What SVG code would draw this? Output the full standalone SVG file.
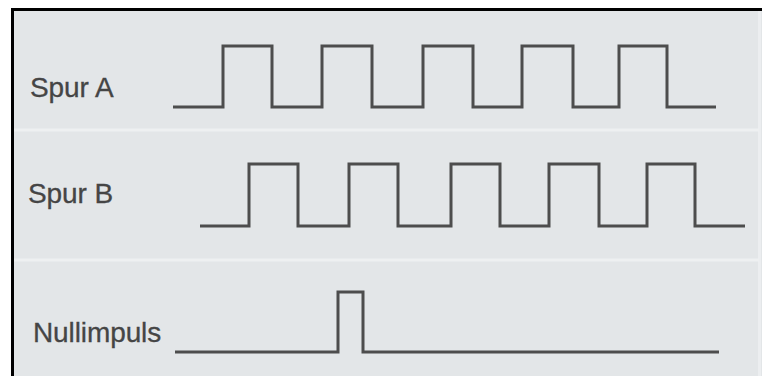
<svg xmlns="http://www.w3.org/2000/svg" width="762" height="376" viewBox="0 0 762 376">
  <style>
    .bg { fill: #e3e6e8; }
    .frame { fill: #000000; }
    .sep { stroke: #eef0f1; stroke-width: 3; fill: none; }
    .wave { fill: none; stroke: #4d4d4d; stroke-width: 3; stroke-linejoin: miter; stroke-linecap: butt; }
    .label { font-family: "Liberation Sans", Arial, sans-serif; font-size: 28px; fill: #454545; letter-spacing: -0.1px; stroke: #454545; stroke-width: 0.3px; }
  </style>
  <rect x="0" y="0" width="762" height="376" fill="#ffffff"/>
  <rect class="bg" x="14" y="11" width="748" height="365"/>
  <rect class="frame" x="11" y="8" width="751" height="3"/>
  <rect class="frame" x="11" y="8" width="3" height="368"/>
  <line x1="759.5" y1="11" x2="759.5" y2="376" stroke="#eceef0" stroke-width="3"/>
  <line class="sep" x1="14" y1="130" x2="759" y2="130"/>
  <line class="sep" x1="14" y1="260" x2="759" y2="260"/>
  <g id="spur-a">
    <text class="label" x="30" y="97">Spur A</text>
    <path class="wave" d="M173,107 H223 V46 H272 V107 H322 V46 H372 V107 H423 V46 H473 V107 H522 V46 H573 V107 H619 V46 H667 V107 H716"/>
  </g>
  <g id="spur-b">
    <text class="label" x="28" y="203">Spur B</text>
    <path class="wave" d="M200,226 H249 V164 H298 V226 H349 V164 H398 V226 H451 V164 H500 V226 H549 V164 H599 V226 H647 V164 H695 V226 H745"/>
  </g>
  <g id="nullimpuls">
    <text class="label" x="33" y="342">Nullimpuls</text>
    <path class="wave" d="M175,352 H338 V292 H363 V352 H719"/>
  </g>
  <g id="connectors"/>
</svg>
